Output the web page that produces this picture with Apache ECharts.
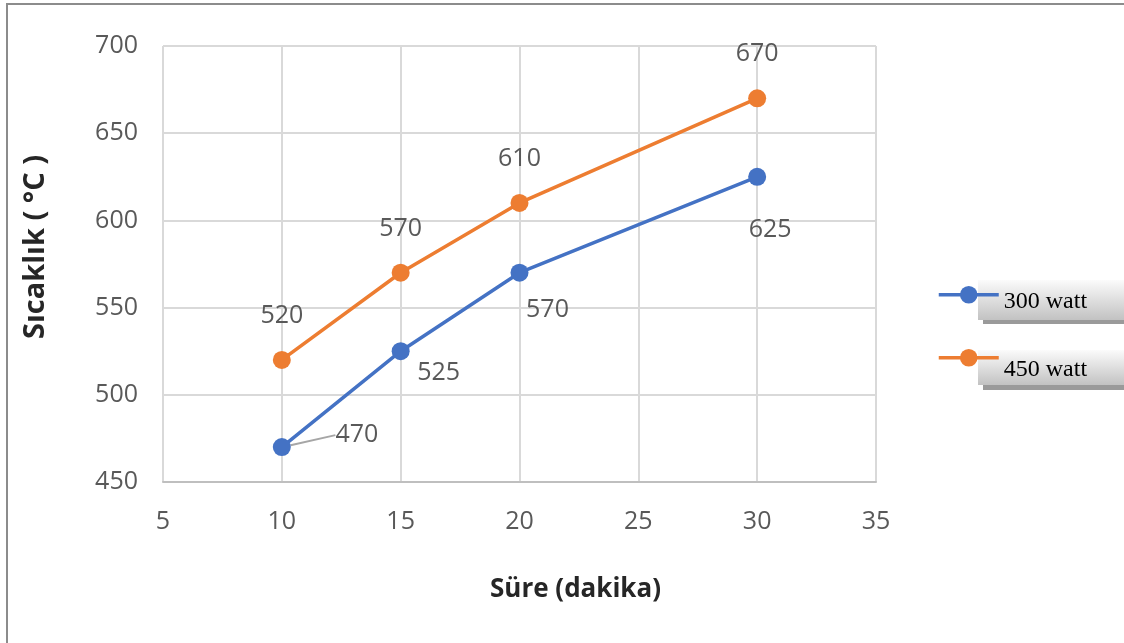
<!DOCTYPE html>
<html>
<head>
<meta charset="utf-8">
<script src="https://cdn.jsdelivr.net/npm/echarts@6/dist/echarts.min.js"></script>
<style>
  html, body { margin: 0; padding: 0; background: #fff; }
  #chart { width: 1124px; height: 643px; }
</style>
</head>
<body>
<div id="chart"></div>
<script>
// Heating time (minutes) and measured temperature for two power levels
const sureDakika = [10, 15, 20, 30];
const sicaklik300 = [470, 525, 570, 625];
const sicaklik450 = [520, 570, 610, 670];
const seriesNames = ['300 watt', '450 watt'];
const xTicks = { min: 5, max: 35, interval: 5 };
const yTicks = { min: 450, max: 700, interval: 50 };

// Label placement (pixel offsets from the point) for the 300 watt series
const labelShift300 = [[75, -12], [38, 22], [28, 37], [13, 53]];

const labelFont = { fontFamily: 'Open Sans', fontSize: 25, color: '#595959' };

const chart = echarts.init(document.getElementById('chart'), null, { renderer: 'canvas' });

const blueData = sureDakika.map((x, i) => {
  const item = { value: [x, sicaklik300[i]] };
  if (i === 0) item.labelLine = { show: true };
  return item;
});
const orangeData = sureDakika.map((x, i) => [x, sicaklik450[i]]);

const plateFill = () => new echarts.graphic.LinearGradient(0, 0, 0, 1, [
  { offset: 0, color: '#fbfbfb' }, { offset: 1, color: '#c2c2c2' }
]);

// One legend block per series so each caption can sit on its own plate
function legendBlock(name, top, drop) {
  return {
    orient: 'vertical',
    left: 937,
    top: top,
    padding: 0,
    itemWidth: 60,
    itemHeight: 22,
    z: 4,
    data: [name],
    lineStyle: { width: 3.5 },
    formatter: '{t|{name}}',
    textStyle: {
      fontFamily: 'Liberation Serif', fontSize: 24, color: '#000',
      rich: { t: { fontFamily: 'Liberation Serif', fontSize: 24, color: '#000', padding: [drop, 0, 0, 0] } }
    }
  };
}

chart.setOption({
  animation: false,
  backgroundColor: '#ffffff',
  grid: { left: 163, right: 248, top: 46, bottom: 161 },
  xAxis: {
    type: 'value',
    min: xTicks.min, max: xTicks.max, interval: xTicks.interval,
    name: 'Süre (dakika)',
    nameLocation: 'middle',
    nameGap: 95,
    nameTextStyle: {
      fontFamily: 'Open Sans', fontWeight: 'bold', fontSize: 26, color: '#262626',
      padding: [0, 0, 0, 112]
    },
    axisLine: { show: true, lineStyle: { color: '#bfbfbf', width: 2 } },
    axisTick: { show: false },
    axisLabel: Object.assign({ margin: 27 }, labelFont),
    splitLine: { show: true, lineStyle: { color: '#d9d9d9', width: 2 } }
  },
  yAxis: {
    type: 'value',
    min: yTicks.min, max: yTicks.max, interval: yTicks.interval,
    name: 'Sıcaklık ( °C )',
    nameLocation: 'middle',
    nameGap: 113,
    nameTextStyle: {
      fontFamily: 'Open Sans', fontWeight: 'bold', fontSize: 29, color: '#262626',
      padding: [0, 0, 0, 34]
    },
    axisLine: { show: false },
    axisTick: { show: false },
    axisLabel: Object.assign({ margin: 25 }, labelFont),
    splitLine: { show: true, lineStyle: { color: '#d9d9d9', width: 2 } }
  },
  legend: [
    legendBlock(seriesNames[0], 286, 14),
    legendBlock(seriesNames[1], 349, 24)
  ],
  graphic: [
    // outer frame (top and left edges visible)
    {
      type: 'rect', z: 0, silent: true,
      shape: { x: 7, y: 4, width: 1300, height: 800 },
      style: { fill: 'none', stroke: '#8c8c8c', lineWidth: 2 }
    },
    // legend caption plates with their drop shadows
    {
      type: 'rect', z: 1, silent: true,
      shape: { x: 983, y: 284, width: 160, height: 40 },
      style: { fill: '#9a9a9a' }
    },
    {
      type: 'rect', z: 1, silent: true,
      shape: { x: 978, y: 280, width: 160, height: 40 },
      style: { fill: plateFill() }
    },
    {
      type: 'rect', z: 1, silent: true,
      shape: { x: 983, y: 354, width: 160, height: 36 },
      style: { fill: '#9a9a9a' }
    },
    {
      type: 'rect', z: 1, silent: true,
      shape: { x: 978, y: 350, width: 160, height: 35 },
      style: { fill: plateFill() }
    }
  ],
  series: [
    {
      name: seriesNames[0],
      type: 'line',
      data: blueData,
      symbol: 'circle',
      symbolSize: 18,
      color: '#4472c4',
      lineStyle: { width: 3.5, color: '#4472c4' },
      itemStyle: { color: '#4472c4' },
      z: 3,
      label: Object.assign({ show: true, position: 'inside', formatter: p => p.value[1] }, labelFont),
      labelLine: { show: false, lineStyle: { color: '#a6a6a6', width: 2 } },
      labelLayout: function (params) {
        const s = labelShift300[params.dataIndex];
        return { dx: s[0], dy: s[1] };
      }
    },
    {
      name: seriesNames[1],
      type: 'line',
      data: orangeData,
      symbol: 'circle',
      symbolSize: 18,
      color: '#ed7d31',
      lineStyle: { width: 3.5, color: '#ed7d31' },
      itemStyle: { color: '#ed7d31' },
      z: 3,
      label: Object.assign({ show: true, position: 'inside', offset: [0, -44], formatter: p => p.value[1] }, labelFont)
    }
  ]
});
</script>
</body>
</html>
